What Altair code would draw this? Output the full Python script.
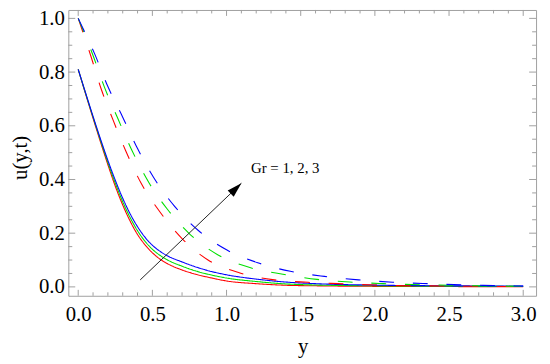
import altair as alt
import pandas as pd

# ---------------- data ----------------
gr_values = [1, 2, 3]
line_colors = ["#ff0000", "#00e000", "#0000ff"]

solid_y = [0, 0.05, 0.1, 0.15, 0.2, 0.25, 0.3, 0.35, 0.4, 0.45, 0.5, 0.55, 0.6,
           0.7, 0.8, 0.9, 1.0, 1.2, 1.4, 1.6, 2.0, 2.5, 3.0]
solid_u_gr1 = [0.81, 0.718, 0.628, 0.54, 0.455, 0.375, 0.305, 0.245, 0.195, 0.157, 0.127, 0.104, 0.087,
               0.063, 0.046, 0.033, 0.022, 0.012, 0.006, 0.004, 0.002, 0.0012, 0.0008]
solid_u_gr2 = [0.81, 0.72, 0.632, 0.546, 0.463, 0.386, 0.317, 0.258, 0.209, 0.17, 0.14, 0.118, 0.101,
               0.077, 0.058, 0.044, 0.033, 0.02, 0.011, 0.007, 0.004, 0.0025, 0.0015]
solid_u_gr3 = [0.81, 0.722, 0.635, 0.551, 0.471, 0.397, 0.33, 0.272, 0.224, 0.185, 0.155, 0.133, 0.116,
               0.093, 0.073, 0.057, 0.045, 0.029, 0.018, 0.012, 0.0065, 0.004, 0.003]

dashed_y_gr1 = [0, 0.085, 0.155, 0.236, 0.32, 0.43, 0.55, 0.70, 0.875, 1.09, 1.31, 1.55, 1.75, 2.0, 2.5, 3.0]
dashed_u_gr1 = [1.0, 0.86, 0.737, 0.62, 0.507, 0.38, 0.28, 0.18, 0.10, 0.052, 0.027, 0.017, 0.012, 0.007, 0.003, 0.001]
dashed_y_gr2 = [0, 0.10, 0.178, 0.268, 0.36, 0.48, 0.60, 0.755, 0.94, 1.157, 1.38, 1.61, 1.83, 2.06, 2.5, 3.0]
dashed_u_gr2 = [1.0, 0.862, 0.742, 0.626, 0.511, 0.385, 0.29, 0.195, 0.12, 0.072, 0.047, 0.028, 0.018, 0.012, 0.006, 0.002]
dashed_y_gr3 = [0, 0.113, 0.2, 0.3, 0.4, 0.53, 0.65, 0.81, 1.0, 1.21, 1.43, 1.66, 1.89, 2.12, 2.36, 2.59, 2.8, 3.0]
dashed_u_gr3 = [1.0, 0.865, 0.746, 0.632, 0.515, 0.389, 0.30, 0.21, 0.138, 0.09, 0.058, 0.039, 0.026, 0.0175, 0.012, 0.0075, 0.005, 0.003]

x_tick_labels = [0.0, 0.5, 1.0, 1.5, 2.0, 2.5, 3.0]
y_tick_labels = [0.0, 0.2, 0.4, 0.6, 0.8, 1.0]
x_minor = [round(i * 0.1, 2) for i in range(31) if i % 5 != 0]
y_minor = [round(i * 0.05, 2) for i in range(21) if i % 4 != 0]

arrow_y = [0.418, 1.10]
arrow_u = [0.026, 0.386]
label_text = "Gr = 1, 2, 3"
label_pos = [1.165, 0.444]

# ---------------- build tables ----------------
rows = []
for gr, u in zip(gr_values, [solid_u_gr1, solid_u_gr2, solid_u_gr3]):
    for yy, uu in zip(solid_y, u):
        rows.append({"y": yy, "u": uu, "Gr": gr, "kind": "solid", "series": f"s{gr}"})
for gr, ys_, us_ in zip(gr_values, [dashed_y_gr1, dashed_y_gr2, dashed_y_gr3],
                        [dashed_u_gr1, dashed_u_gr2, dashed_u_gr3]):
    for yy, uu in zip(ys_, us_):
        rows.append({"y": yy, "u": uu, "Gr": gr, "kind": "dashed", "series": f"d{gr}"})
df = pd.DataFrame(rows)

W, H = 473, 289
FONT = "Liberation Serif, Times New Roman, Times, DejaVu Serif, serif"
FRAME = "#a0a0a0"

xs = alt.Scale(domain=[-0.0667, 3.0867], nice=False, zero=False)
ys = alt.Scale(domain=[-0.0331, 1.0313], nice=False, zero=False)

xaxis = alt.Axis(values=x_tick_labels, format=".1f", ticks=False, domain=False, grid=False,
                 labelFont=FONT, labelFontSize=21, labelColor="black", labelPadding=8,
                 title="y", titleFont=FONT, titleFontSize=21, titleFontWeight="normal",
                 titleColor="black", titleX=237, titleY=57, titleBaseline="alphabetic",
                 labelFlush=False, labelOverlap=False)
yaxis = alt.Axis(values=y_tick_labels, format=".1f", ticks=False, domain=False, grid=False,
                 labelFont=FONT, labelFontSize=21, labelColor="black", labelPadding=4,
                 title="u(y,t)", titleFont=FONT, titleFontSize=21, titleFontWeight="normal",
                 titleColor="black", titleX=-48, titleY=149, titleAngle=-90,
                 titleAlign="center", titleBaseline="middle",
                 labelFlush=False, labelOverlap=False)

X = alt.X("y:Q", scale=xs, axis=xaxis)
Y = alt.Y("u:Q", scale=ys, axis=yaxis)

lines = alt.Chart(df).mark_line(strokeWidth=1.1, interpolate="monotone", clip=True).encode(
    x=X, y=Y,
    color=alt.Color("Gr:N", scale=alt.Scale(domain=gr_values, range=line_colors), legend=None),
    strokeDash=alt.StrokeDash("kind:N", scale=alt.Scale(domain=["solid", "dashed"],
                                                        range=[[1, 0], [15, 19]]), legend=None),
    detail="series:N",
)

# frame ticks (inside the frame, Mathematica style)
def xticks(vals, length):
    d = pd.DataFrame({"y": vals})
    b = alt.Chart(d).mark_rule(color=FRAME, strokeWidth=1).encode(
        x=X, y=alt.value(H), y2=alt.value(H - length))
    t = alt.Chart(d).mark_rule(color=FRAME, strokeWidth=1).encode(
        x=X, y=alt.value(0), y2=alt.value(length))
    return [b, t]

def yticks(vals, length):
    d = pd.DataFrame({"u": vals})
    l = alt.Chart(d).mark_rule(color=FRAME, strokeWidth=1).encode(
        y=Y, x=alt.value(0), x2=alt.value(length))
    r = alt.Chart(d).mark_rule(color=FRAME, strokeWidth=1).encode(
        y=Y, x=alt.value(W), x2=alt.value(W - length))
    return [l, r]

tick_layers = (xticks(x_tick_labels, 6) + xticks(x_minor, 3.5) +
               yticks(y_tick_labels, 7) + yticks(y_minor, 4))

arrow_df = pd.DataFrame({"y": arrow_y, "u": arrow_u})
shaft = alt.Chart(arrow_df).mark_line(color="#222222", strokeWidth=1).encode(x=X, y=Y)
head = alt.Chart(arrow_df.iloc[[1]]).mark_point(
    shape="M0,0L0.55,1.9L-0.55,1.9Z", filled=True, color="black", opacity=1,
    size=250, angle=46, strokeWidth=0).encode(x=X, y=Y)

text_df = pd.DataFrame({"y": [label_pos[0]], "u": [label_pos[1]], "t": [label_text]})
label = alt.Chart(text_df).mark_text(font=FONT, fontSize=15, align="left", baseline="middle",
                                     color="black").encode(x=X, y=Y, text="t:N")

chart = alt.layer(*tick_layers, lines, shaft, head, label).properties(
    width=W, height=H,
    padding={"left": 61, "top": 0, "right": 6, "bottom": 68},
    autosize=alt.AutoSizeParams(type="none"),
).configure_view(stroke=FRAME, strokeWidth=1)

chart.save("out.html", embed_options={"renderer": "svg", "actions": False})
